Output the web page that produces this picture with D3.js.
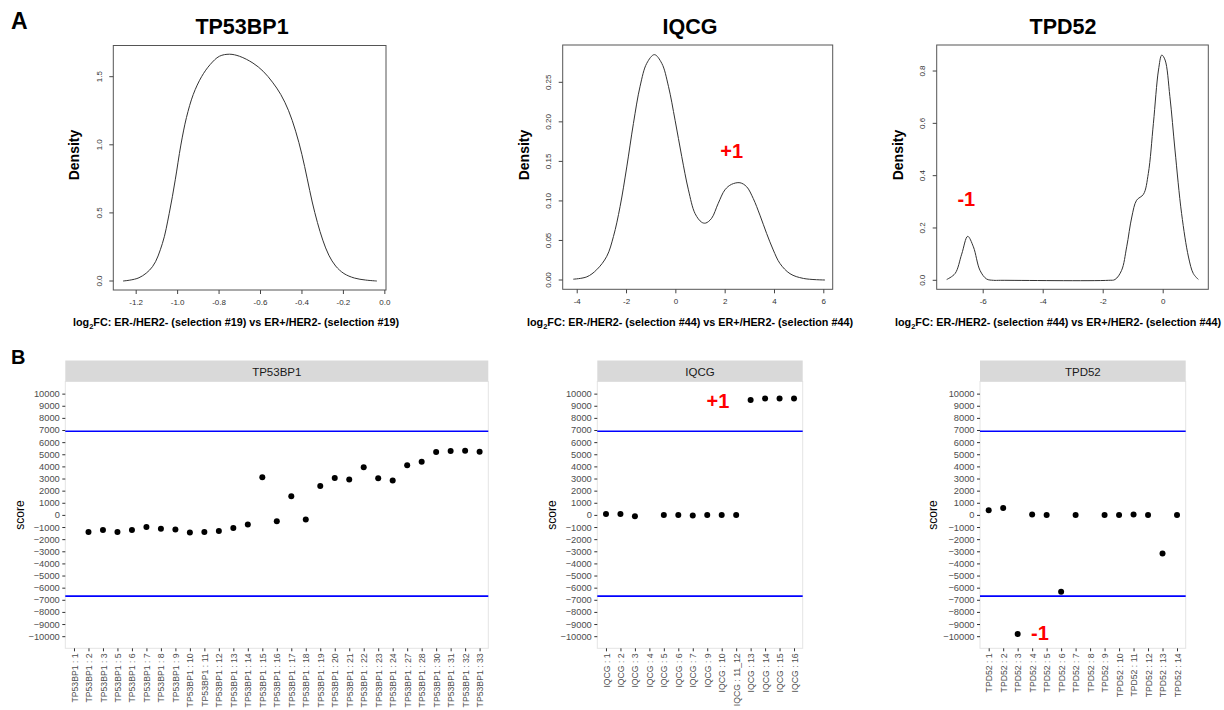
<!DOCTYPE html>
<html>
<head>
<meta charset="utf-8">
<script src="https://cdn.jsdelivr.net/npm/d3@7"></script>
<style>
  body { margin: 0; background: #fff; }
  svg { display: block; font-family: "Liberation Sans", Arial, Helvetica, sans-serif; }
</style>
</head>
<body>
<svg id="chart" width="1224" height="710"></svg>
<script>
// ---- panel A: density curves ----
const tp53DensX = [-1.261, -1.184, -1.119, -1.071, -1.038, -1.009, -0.982, -0.955, -0.922, -0.882, -0.840, -0.796, -0.747, -0.699, -0.634, -0.585, -0.540, -0.500, -0.462, -0.428, -0.398, -0.372, -0.348, -0.323, -0.297, -0.268, -0.235, -0.195, -0.145, -0.090, -0.036];
const tp53DensY = [0, 0.024, 0.105, 0.276, 0.497, 0.743, 0.998, 1.20, 1.37, 1.50, 1.59, 1.65, 1.665, 1.65, 1.60, 1.54, 1.46, 1.37, 1.25, 1.10, 0.93, 0.75, 0.58, 0.43, 0.30, 0.19, 0.11, 0.055, 0.022, 0.007, 0];

const iqcgDensX = [-4.14, -3.59, -3.19, -2.78, -2.51, -2.24, -1.97, -1.70, -1.43, -1.16, -0.85, -0.55, -0.28, -0.01, 0.26, 0.53, 0.80, 1.07, 1.23, 1.47, 1.74, 2.01, 2.28, 2.62, 2.89, 3.16, 3.43, 3.70, 3.97, 4.24, 4.65, 5.19, 6.07];
const iqcgDensY = [0.001, 0.004, 0.013, 0.030, 0.055, 0.093, 0.143, 0.198, 0.245, 0.274, 0.285, 0.274, 0.245, 0.202, 0.156, 0.114, 0.084, 0.073, 0.072, 0.078, 0.097, 0.114, 0.121, 0.123, 0.118, 0.103, 0.082, 0.059, 0.038, 0.021, 0.008, 0.002, 0];

const tpd52DensX = [-7.20, -6.92, -6.70, -6.50, -6.31, -6.09, -5.87, -5.64, -5.40, -1.80, -1.59, -1.37, -1.20, -1.03, -0.87, -0.64, -0.48, -0.31, -0.14, -0.03, 0.08, 0.24, 0.41, 0.63, 0.86, 1.02, 1.19];
const tpd52DensY = [0.003, 0.026, 0.10, 0.168, 0.128, 0.038, 0.005, 0, 0, 0, 0.003, 0.038, 0.128, 0.242, 0.306, 0.329, 0.408, 0.600, 0.804, 0.861, 0.842, 0.702, 0.498, 0.255, 0.089, 0.026, 0.003];

const tp53XTicks = [-1.2, -1.0, -0.8, -0.6, -0.4, -0.2, 0.0];
const tp53YTicks = [0, 0.5, 1.0, 1.5];
const iqcgXTicks = [-4, -2, 0, 2, 4, 6];
const iqcgYTicks = [0, 0.05, 0.10, 0.15, 0.20, 0.25];
const tpd52XTicks = [-6, -4, -2, 0];
const tpd52YTicks = [0, 0.2, 0.4, 0.6, 0.8];

// ---- panel B: scores per probe ----
const tp53Cats = ['1', '2', '3', '5', '6', '7', '8', '9', '10', '11', '12', '13', '14', '15', '16', '17', '18', '19', '20', '21', '22', '23', '24', '27', '28', '30', '31', '32', '33'];
const tp53Scores = [null, -1400, -1235, -1400, -1235, -990, -1150, -1200, -1450, -1400, -1320, -1070, -800, 3100, -520, 1540, -380, 2390, 3045, 2910, 3920, 3020, 2830, 4090, 4390, 5185, 5270, 5300, 5210];

const iqcgCats = ['1', '2', '3', '4', '5', '6', '7', '9', '10', '11_12', '13', '14', '15', '16'];
const iqcgScores = [80, 80, -110, null, 0, 0, -50, 0, 0, 0, 9465, 9600, 9600, 9600];

const tpd52Cats = ['1', '2', '3', '4', '5', '6', '7', '8', '9', '10', '11', '12', '13', '14'];
const tpd52Scores = [385, 576, -9822, 27, 0, -6337, 0, null, 0, 0, 27, 0, -3182, 0];

const scoreTicks = d3.range(-10000, 10001, 1000);
const thresholds = [6900, -6700];

const svg = d3.select('#chart');

// panel letters
svg.append('text').attr('x', 11).attr('y', 28.5)
  .attr('font-size', 23).attr('font-weight', 'bold').text('A');
svg.append('text').attr('x', 11).attr('y', 364)
  .attr('font-size', 20).attr('font-weight', 'bold').text('B');

// base-R style density plot
function drawDensity(c) {
  const x = d3.scaleLinear().domain(c.xDomain).range([c.left, c.right]);
  const y = d3.scaleLinear().domain(c.yDomain).range([c.bottom, c.top]);
  const g = svg.append('g');

  g.append('path')
    .datum(d3.zip(c.xs, c.ys))
    .attr('fill', 'none')
    .attr('stroke', '#333')
    .attr('stroke-width', 1)
    .attr('d', d3.line().x(d => x(d[0])).y(d => y(d[1])).curve(d3.curveCatmullRom.alpha(0.5)));

  g.append('rect')
    .attr('x', c.left).attr('y', c.top)
    .attr('width', c.right - c.left).attr('height', c.bottom - c.top)
    .attr('fill', 'none').attr('stroke', '#555').attr('stroke-width', 1);

  const xa = g.append('g')
    .attr('transform', 'translate(0,' + c.bottom + ')')
    .call(d3.axisBottom(x).tickValues(c.xTicks).tickSize(4).tickPadding(5)
      .tickFormat(d => d.toFixed(c.xDigits)));
  xa.select('.domain').remove();
  xa.selectAll('line').attr('stroke', '#444');
  xa.selectAll('text').attr('font-size', 8).attr('fill', '#333').attr('font-family', null);

  g.selectAll('.ytick').data(c.yTicks).enter().append('line')
    .attr('x1', c.left - 4).attr('x2', c.left)
    .attr('y1', d => y(d)).attr('y2', d => y(d))
    .attr('stroke', '#444');
  g.selectAll('.ylab').data(c.yTicks).enter().append('text')
    .attr('transform', d => 'translate(' + (c.left - 11.5) + ',' + y(d) + ') rotate(-90)')
    .attr('text-anchor', 'middle')
    .attr('font-size', 8).attr('fill', '#333')
    .text(d => d.toFixed(c.yDigits));

  g.append('text')
    .attr('x', c.titleX).attr('y', 34)
    .attr('text-anchor', 'middle')
    .attr('font-size', 21.5).attr('font-weight', 'bold')
    .text(c.title);

  g.append('text')
    .attr('transform', 'translate(' + (c.left - 34) + ',155) rotate(-90)')
    .attr('text-anchor', 'middle')
    .attr('font-size', 14).attr('font-weight', 'bold')
    .text('Density');

  const xl = g.append('text')
    .attr('x', c.labelX).attr('y', 326)
    .attr('text-anchor', 'middle')
    .attr('font-size', 10.8).attr('font-weight', 'bold');
  xl.append('tspan').text('log');
  xl.append('tspan').attr('font-size', 7.5).attr('dy', 2.5).text('2');
  xl.append('tspan').attr('dy', -2.5)
    .text('FC: ER-/HER2- (selection #' + c.sel + ') vs ER+/HER2- (selection #' + c.sel + ')');

  if (c.mark) {
    g.append('text')
      .attr('x', c.mark.x).attr('y', c.mark.y)
      .attr('text-anchor', 'middle')
      .attr('font-size', 20).attr('font-weight', 'bold').attr('fill', '#ff0000')
      .text(c.mark.text);
  }
}

drawDensity({
  title: 'TP53BP1', titleX: 242, labelX: 236, sel: 19,
  xs: tp53DensX, ys: tp53DensY,
  left: 113.3, right: 386, top: 45.5, bottom: 290,
  xDomain: [-1.308, 0.008], yDomain: [-0.066, 1.729],
  xTicks: tp53XTicks, yTicks: tp53YTicks, xDigits: 1, yDigits: 1
});
drawDensity({
  title: 'IQCG', titleX: 690, labelX: 690, sel: 44,
  xs: iqcgDensX, ys: iqcgDensY,
  left: 562.7, right: 832.7, top: 45, bottom: 289.3,
  xDomain: [-4.568, 6.381], yDomain: [-0.01176, 0.2972],
  xTicks: iqcgXTicks, yTicks: iqcgYTicks, xDigits: 0, yDigits: 2,
  mark: { text: '+1', x: 731.7, y: 158.3 }
});
drawDensity({
  title: 'TPD52', titleX: 1063, labelX: 1058, sel: 44,
  xs: tpd52DensX, ys: tpd52DensY,
  left: 936.7, right: 1208.3, top: 45, bottom: 289.3,
  xDomain: [-7.533, 1.52], yDomain: [-0.0344, 0.8995],
  xTicks: tpd52XTicks, yTicks: tpd52YTicks, xDigits: 0, yDigits: 1,
  mark: { text: '-1', x: 966.3, y: 205.7 }
});

// ggplot style facet with score dots
const B_STRIP_TOP = 360.5, B_TOP = 381.5, B_BOTTOM = 648.3;
const yScore = d3.scaleLinear().domain([-11000, 11000]).range([B_BOTTOM, B_TOP]);

function drawScores(c) {
  const x = d3.scalePoint().domain(c.cats).range([c.left, c.right]).padding(0.6);
  const g = svg.append('g');
  const w = c.right - c.left;

  g.append('rect').attr('x', c.left).attr('y', B_TOP)
    .attr('width', w).attr('height', B_BOTTOM - B_TOP)
    .attr('fill', '#fff').attr('stroke', '#e4e4e4').attr('stroke-width', 1);

  g.append('rect').attr('x', c.left).attr('y', B_STRIP_TOP)
    .attr('width', w).attr('height', B_TOP - B_STRIP_TOP)
    .attr('fill', '#d9d9d9');
  g.append('text')
    .attr('x', c.left + w / 2).attr('y', 376)
    .attr('text-anchor', 'middle')
    .attr('font-size', 11.5).attr('fill', '#1a1a1a')
    .text(c.name);

  const ya = g.append('g')
    .attr('transform', 'translate(' + c.left + ',0)')
    .call(d3.axisLeft(yScore).tickValues(scoreTicks).tickSize(3).tickPadding(2.5).tickFormat(d3.format('d')));
  ya.select('.domain').remove();
  ya.selectAll('line').attr('stroke', '#333');
  ya.selectAll('text').attr('font-size', 9.3).attr('fill', '#4d4d4d').attr('font-family', null);

  // category labels read bottom-to-top, sized so the longest still fits above the page edge
  const xa = g.append('g')
    .attr('transform', 'translate(0,' + B_BOTTOM + ')')
    .call(d3.axisBottom(x).tickSize(3).tickFormat(d => c.name + ' : ' + d));
  xa.select('.domain').remove();
  xa.selectAll('line').attr('stroke', '#333');
  xa.selectAll('text')
    .attr('font-size', 8.7).attr('fill', '#4d4d4d').attr('font-family', null)
    .attr('text-anchor', 'end')
    .attr('transform', 'rotate(-90)')
    .attr('x', -5).attr('y', 0).attr('dy', '0.35em');

  g.selectAll('.thr').data(thresholds).enter().append('line')
    .attr('x1', c.left).attr('x2', c.right)
    .attr('y1', d => yScore(d)).attr('y2', d => yScore(d))
    .attr('stroke', '#0000ff').attr('stroke-width', 1.6);

  const pts = c.cats.map((k, i) => ({ k: k, v: c.scores[i] })).filter(d => d.v !== null);
  g.selectAll('circle').data(pts).enter().append('circle')
    .attr('cx', d => x(d.k)).attr('cy', d => yScore(d.v))
    .attr('r', 3).attr('fill', '#000');

  g.append('text')
    .attr('transform', 'translate(' + c.scoreX + ',515) rotate(-90)')
    .attr('text-anchor', 'middle')
    .attr('font-size', 12).attr('fill', '#000')
    .text('score');

  if (c.mark) {
    g.append('text')
      .attr('x', c.mark.x).attr('y', c.mark.y)
      .attr('text-anchor', 'middle')
      .attr('font-size', 20).attr('font-weight', 'bold').attr('fill', '#ff0000')
      .text(c.mark.text);
  }
}

drawScores({ name: 'TP53BP1', cats: tp53Cats, scores: tp53Scores, left: 65.3, right: 488.3, scoreX: 24 });
drawScores({ name: 'IQCG', cats: iqcgCats, scores: iqcgScores, left: 597.3, right: 802.7, scoreX: 556,
  mark: { text: '+1', x: 718, y: 408.3 } });
drawScores({ name: 'TPD52', cats: tpd52Cats, scores: tpd52Scores, left: 980, right: 1185.7, scoreX: 937,
  mark: { text: '-1', x: 1040, y: 640 } });
</script>
</body>
</html>
